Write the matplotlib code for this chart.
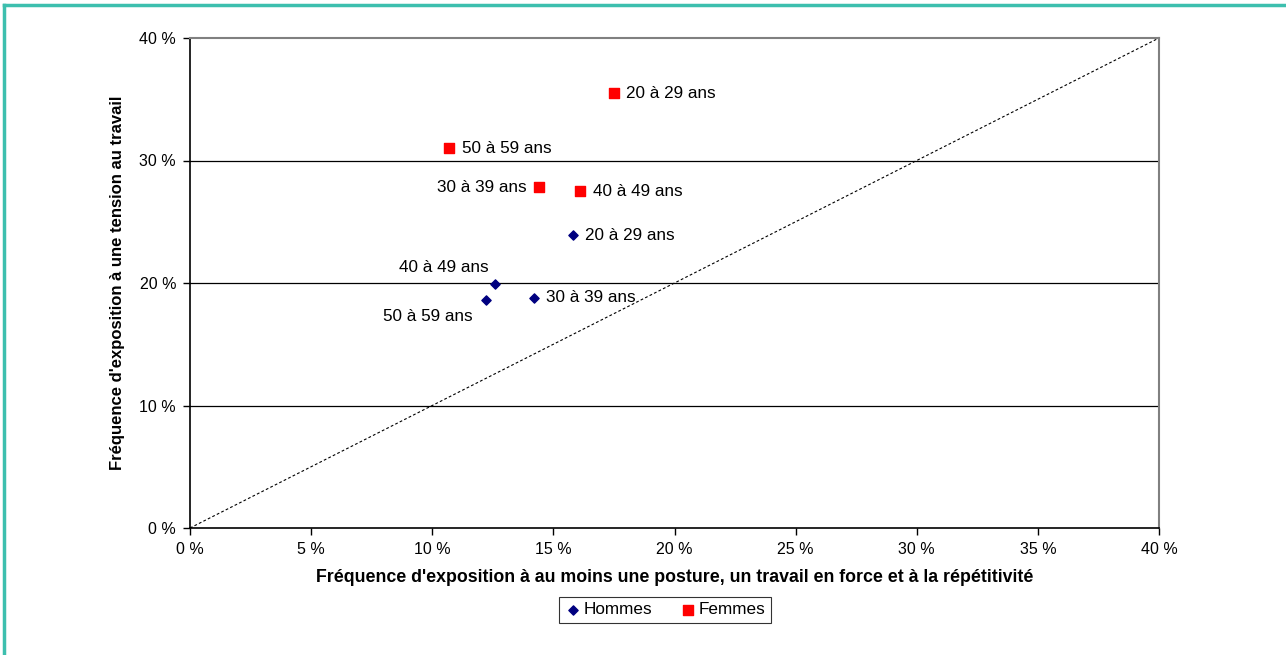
import matplotlib.pyplot as plt
from matplotlib.lines import Line2D
from matplotlib.ticker import FuncFormatter

plt.rcParams['font.family'] = ['Liberation Sans', 'DejaVu Sans']

ages = ['20 à 29 ans', '30 à 39 ans', '40 à 49 ans', '50 à 59 ans']

# Hommes
hommes_x = [15.8, 14.2, 12.6, 12.2]
hommes_y = [23.9, 18.8, 19.9, 18.6]
# Femmes
femmes_x = [17.5, 14.4, 16.1, 10.7]
femmes_y = [35.5, 27.8, 27.5, 31.0]

# label offsets (points)
hommes_off = [(9, 0, 'left'), (9, 0, 'left'), (-5, 12, 'right'), (-9, -12, 'right')]
femmes_off = [(9, 0, 'left'), (-9, 0, 'right'), (9, 0, 'left'), (9, 0, 'left')]

fig = plt.figure(figsize=(12.86, 6.55), dpi=100)
ax = fig.add_axes([190 / 1286, 1 - 528 / 655, (1159 - 190) / 1286, (528 - 38) / 655])

# teal frame around the chart area
fig.add_artist(Line2D([4 / 1286, 4 / 1286], [0, 1 - 5 / 655], color='#3dbfae', lw=2.5,
                      transform=fig.transFigure))
fig.add_artist(Line2D([4 / 1286, 1], [1 - 5 / 655, 1 - 5 / 655], color='#3dbfae', lw=2.5,
                      transform=fig.transFigure))

for yv in [10, 20, 30]:
    ax.axhline(yv, color='black', lw=0.9, zorder=1)

ax.plot([0, 40], [0, 40], color='black', lw=0.8, ls=(0, (2.5, 2)), zorder=2)

ax.scatter(hommes_x, hommes_y, marker='D', s=22, color='#000080', zorder=3, label='Hommes')
ax.scatter(femmes_x, femmes_y, marker='s', s=45, color='#ff0000', zorder=3, label='Femmes')

for i in range(len(ages)):
    dx, dy, ha = hommes_off[i]
    ax.annotate(ages[i], (hommes_x[i], hommes_y[i]), xytext=(dx, dy), textcoords='offset points',
                ha=ha, va='center', fontsize=12.3)
    dx, dy, ha = femmes_off[i]
    ax.annotate(ages[i], (femmes_x[i], femmes_y[i]), xytext=(dx, dy), textcoords='offset points',
                ha=ha, va='center', fontsize=12.3)

ax.set_xlim(0, 40)
ax.set_ylim(0, 40)
ax.set_xticks(range(0, 41, 5))
ax.set_yticks(range(0, 41, 10))
fmt = FuncFormatter(lambda v, p: '%d %%' % v)
ax.xaxis.set_major_formatter(fmt)
ax.yaxis.set_major_formatter(fmt)
ax.tick_params(direction='out', length=5, width=1, labelsize=11.5, pad=5)

for s in ['left', 'bottom']:
    ax.spines[s].set_color('black')
    ax.spines[s].set_linewidth(1.2)
for s in ['top', 'right']:
    ax.spines[s].set_color('#808080')
    ax.spines[s].set_linewidth(1.5)

ax.set_xlabel("Fréquence d'exposition à au moins une posture, un travail en force et à la répétitivité",
              fontsize=12.8, fontweight='bold', labelpad=9)
ax.set_ylabel("Fréquence d'exposition à une tension au travail",
              fontsize=12, fontweight='bold', labelpad=10)

leg = fig.legend(loc='center', bbox_to_anchor=(665 / 1286, 1 - 610 / 655), ncol=2,
                 fontsize=12.3, frameon=True, fancybox=False, edgecolor='black',
                 handletextpad=0.1, columnspacing=1.6, handlelength=1, borderpad=0.35)
leg.get_frame().set_linewidth(0.8)

fig.savefig('out.png', dpi=100)
